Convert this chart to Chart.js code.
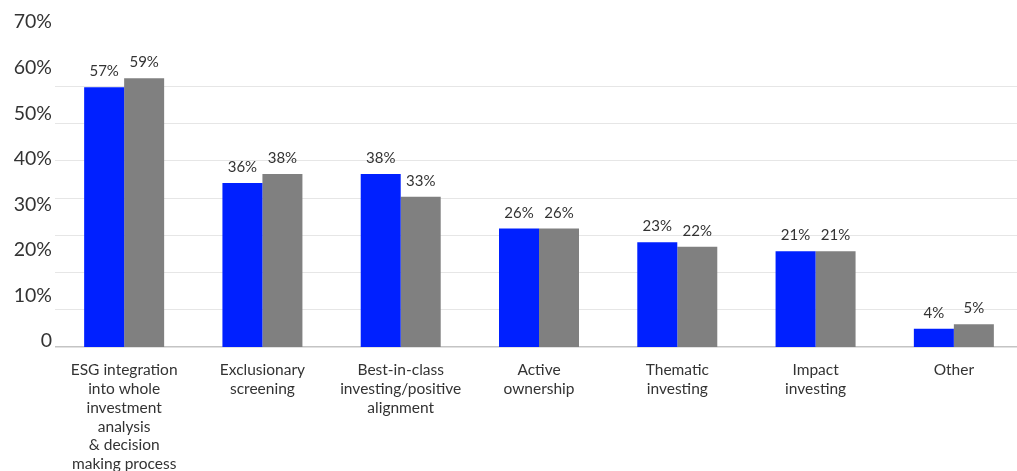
<!DOCTYPE html>
<html>
<head>
<meta charset="utf-8">
<script src="https://cdn.jsdelivr.net/npm/chart.js@4"></script>
<style>
  html, body { margin: 0; padding: 0; background: #fff; overflow: hidden; }
  #wrap { width: 1024px; height: 471px; }
</style>
</head>
<body>
<div id="wrap"><canvas id="esgChart"></canvas></div>
<script>
// categories (multi-line labels as shown under the bars)
const categories = [
  ['ESG integration', 'into whole', 'investment', 'analysis', '& decision', 'making process'],
  ['Exclusionary', 'screening'],
  ['Best-in-class', 'investing/positive', 'alignment'],
  ['Active', 'ownership'],
  ['Thematic', 'investing'],
  ['Impact', 'investing'],
  ['Other']
];

// series values, in percent
const blueValues = [57, 36, 38, 26, 23, 21, 4];
const greyValues = [59, 38, 33, 26, 22, 21, 5];

// left axis tick labels
const yTicks = [0, 10, 20, 30, 40, 50, 60, 70];

const FONT = 'Lato, "Open Sans", sans-serif';
const TEXT = '#333333';

// draws the "57%" style labels above every bar
const valueLabels = {
  id: 'valueLabels',
  afterDatasetsDraw(chart) {
    const ctx = chart.ctx;
    ctx.save();
    ctx.font = '15px ' + FONT;
    ctx.fillStyle = TEXT;
    ctx.textAlign = 'center';
    ctx.textBaseline = 'alphabetic';
    chart.data.datasets.forEach((ds, i) => {
      chart.getDatasetMeta(i).data.forEach((bar, j) => {
        ctx.fillText(ds.data[j] + '%', bar.x, bar.y - 11);
      });
    });
    ctx.restore();
  }
};

new Chart(document.getElementById('esgChart'), {
  type: 'bar',
  data: {
    labels: categories,
    datasets: [
      { label: 'Series 1', data: blueValues, backgroundColor: '#0020ff', yAxisID: 'y' },
      { label: 'Series 2', data: greyValues, backgroundColor: '#808080', yAxisID: 'y' }
    ]
  },
  options: {
    responsive: true,
    maintainAspectRatio: false,
    animation: false,
    layout: { padding: { top: 19, right: 1, left: 0, bottom: 0 } },
    datasets: {
      bar: { categoryPercentage: 0.5785, barPercentage: 1.0 }
    },
    plugins: {
      legend: { display: false },
      tooltip: { enabled: false }
    },
    scales: {
      x: {
        grid: { display: false },
        border: { display: false },
        ticks: {
          color: TEXT,
          font: { family: FONT, size: 15.5, lineHeight: 1.21 },
          padding: 6,
          maxRotation: 0,
          autoSkip: false
        },
        afterFit(scale) { scale.height = 124; }
      },
      y: {
        position: 'left',
        min: 0,
        max: 72,
        afterBuildTicks(scale) { scale.ticks = yTicks.map(v => ({ value: v })); },
        grid: { display: false, drawTicks: false },
        border: { display: false },
        ticks: {
          color: TEXT,
          font: { family: FONT, size: 19.5 },
          padding: 3,
          labelOffset: -6,
          callback: v => (v === 0 ? '0' : v + '%')
        },
        afterFit(scale) { scale.width = 55; }
      },
      grid: {
        position: 'left',
        min: 0,
        max: 8.806,
        ticks: { display: false, stepSize: 1 },
        border: { display: false },
        grid: {
          drawTicks: false,
          lineWidth: ctx => (ctx.tick && ctx.tick.value === 0 ? 1.5 : 1),
          color: ctx => {
            const v = ctx.tick ? ctx.tick.value : -1;
            if (v === 0) return '#c4c4c4';
            if (v >= 1 && v <= 7) return '#e6e6e6';
            return 'rgba(0,0,0,0)';
          }
        },
        afterFit(scale) { scale.width = 0; }
      }
    }
  },
  plugins: [valueLabels]
});
</script>
</body>
</html>
